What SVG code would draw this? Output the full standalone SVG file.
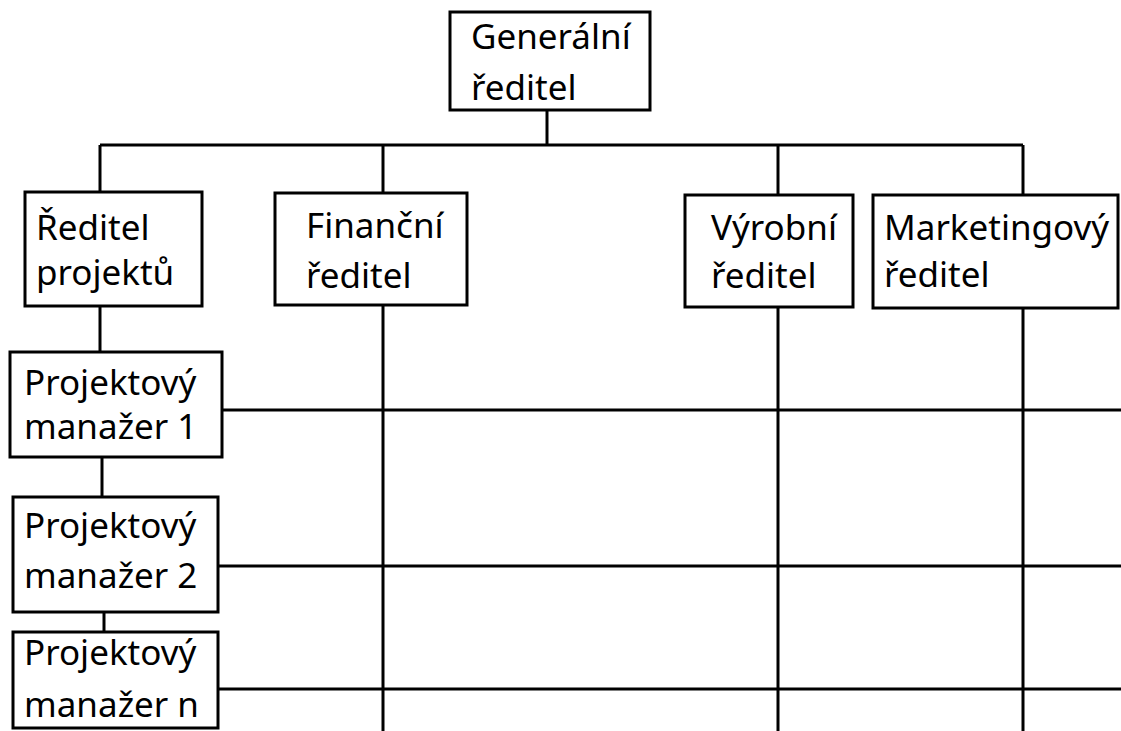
<svg xmlns="http://www.w3.org/2000/svg" width="1121" height="731" viewBox="0 0 1121 731">
  <style>
    .box { fill: #ffffff; stroke: #000000; stroke-width: 3; }
    .wire { fill: none; stroke: #000000; stroke-width: 3; }
    .lbl { font-family: "Noto Sans", "Open Sans", sans-serif; font-size: 35px; fill: #000000; }
  </style>
  <rect width="1121" height="731" fill="#ffffff"/>

  <!-- connectors -->
  <g id="connectors" class="wire">
    <path d="M547 110 V145"/>
    <path d="M100 145 H1023"/>
    <path d="M100 145 V192"/>
    <path d="M383 145 V193"/>
    <path d="M778 145 V195"/>
    <path d="M1023 145 V195"/>
    <path d="M100 306 V352"/>
    <path d="M102 457 V497"/>
    <path d="M104 612 V632"/>
    <path d="M383 305 V731"/>
    <path d="M778 307 V731"/>
    <path d="M1023 308 V731"/>
    <path d="M222 410 H1121"/>
    <path d="M218 566 H1121"/>
    <path d="M218 689 H1121"/>
  </g>

  <g id="generalni-reditel">
    <rect class="box" x="450" y="12" width="200" height="98"/>
    <text class="lbl" x="471" y="49">Generální</text>
    <text class="lbl" x="471" y="100">ředitel</text>
  </g>

  <g id="reditel-projektu">
    <rect class="box" x="25" y="192" width="177" height="114"/>
    <text class="lbl" x="36" y="240">Ředitel</text>
    <text class="lbl" x="36" y="285">projektů</text>
  </g>

  <g id="financni-reditel">
    <rect class="box" x="275" y="193" width="192" height="112"/>
    <text class="lbl" x="306" y="238">Finanční</text>
    <text class="lbl" x="306" y="288">ředitel</text>
  </g>

  <g id="vyrobni-reditel">
    <rect class="box" x="685" y="195" width="168" height="112"/>
    <text class="lbl" x="711" y="240">Výrobní</text>
    <text class="lbl" x="711" y="288">ředitel</text>
  </g>

  <g id="marketingovy-reditel">
    <rect class="box" x="873" y="195" width="245" height="113"/>
    <text class="lbl" x="884" y="240">Marketingový</text>
    <text class="lbl" x="884" y="287">ředitel</text>
  </g>

  <g id="projektovy-manazer-1">
    <rect class="box" x="10" y="352" width="212" height="105"/>
    <text class="lbl" x="24" y="395">Projektový</text>
    <text class="lbl" x="24" y="439">manažer 1</text>
  </g>

  <g id="projektovy-manazer-2">
    <rect class="box" x="13" y="497" width="205" height="115"/>
    <text class="lbl" x="24" y="538">Projektový</text>
    <text class="lbl" x="24" y="588">manažer 2</text>
  </g>

  <g id="projektovy-manazer-n">
    <rect class="box" x="13" y="632" width="205" height="96"/>
    <text class="lbl" x="24" y="665">Projektový</text>
    <text class="lbl" x="24" y="717">manažer n</text>
  </g>
</svg>
